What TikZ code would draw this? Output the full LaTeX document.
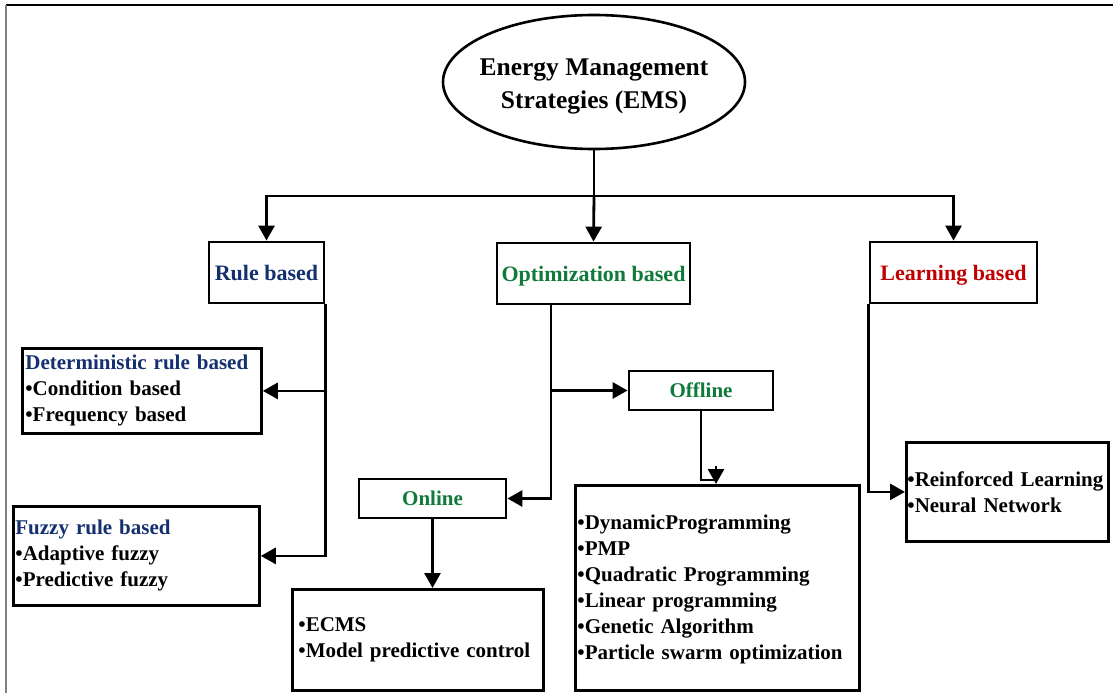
\documentclass[tikz,border=0pt]{standalone}
\usepackage{fontspec}
\setmainfont{Liberation Serif}
\usetikzlibrary{shapes.geometric,arrows.meta}
\definecolor{rulenavy}{RGB}{20,48,110}
\definecolor{optgreen}{RGB}{16,122,58}
\definecolor{learnred}{RGB}{192,0,0}
\tikzset{
  conn/.style={line width=2.8pt},
  arr/.style={conn,-{Triangle[length=15pt,width=16pt]}},
  hbox/.style={draw,line width=2.8pt,rectangle,inner sep=0pt,text depth=0pt,font=\fontsize{22}{26}\selectfont\bfseries},
  lbox/.style={draw,line width=2.8pt,rectangle,inner ysep=0pt,inner xsep=3pt,align=left,anchor=north west,font=\fontsize{21}{26}\selectfont\bfseries},
}
\begin{document}
\begin{tikzpicture}[x=1pt,y=-1pt]
\useasboundingbox (0,0) rectangle (1113,693);
\fill[white] (0,0) rectangle (1113,693);
\draw[line width=1.5pt] (6,5) coordinate (fa) -- (1113,5) coordinate (fb);
\draw[gray,line width=1.5pt] (fa) -- (6,693) coordinate (fc);

\node[draw,ellipse,line width=2.6pt,minimum width=302pt,minimum height=134pt,inner sep=0pt,align=center,
  font=\fontsize{25.5}{33}\selectfont\bfseries] (ems) at (594,82)
  {\rule{0pt}{25pt}\makebox[0pt]{Energy Management}\\\makebox[0pt]{Strategies (EMS)}};

\node[hbox,minimum width=115pt,minimum height=61pt,text=rulenavy] (rule) at (266.5,272.5) {Rule based};
\node[hbox,minimum width=193pt,minimum height=61pt,text=optgreen] (opt) at (593.5,273.5) {Optimization based};
\node[hbox,minimum width=167pt,minimum height=61pt,text=learnred] (learn) at (953.5,272.5) {Learning based};

\node[lbox,text width=233pt,minimum height=85pt] (det) at (21,347)
  {\textcolor{rulenavy}{Deterministic rule based}\\•Condition based\\•Frequency based};
\node[lbox,text width=242pt,minimum height=99pt,inner xsep=2pt] (fuzzy) at (12,505)
  {\textcolor{rulenavy}{Fuzzy rule based}\\•Adaptive fuzzy\\•Predictive fuzzy};

\node[hbox,minimum width=144pt,minimum height=39pt,text=optgreen,font=\fontsize{21}{26}\selectfont\bfseries] (offline) at (701,390.5) {Offline};
\node[hbox,minimum width=147pt,minimum height=39pt,text=optgreen,font=\fontsize{21}{26}\selectfont\bfseries] (online) at (432.5,498.5) {Online};

\node[lbox,text width=239pt,minimum height=101pt,inner xsep=6pt] (ecms) at (291,588)
  {•ECMS\\•Model predictive control};
\node[lbox,text width=280pt,minimum height=205pt,inner xsep=2pt] (offlist) at (574,484)
  {\rule{0pt}{18.5pt}•DynamicProgramming\\•PMP\\•Quadratic Programming\\•Linear programming\\•Genetic Algorithm\\•Particle swarm optimization};
\node[lbox,text width=200pt,minimum height=99pt,inner xsep=1pt] (llist) at (905,441)
  {•Reinforced Learning\\•Neural Network};

% connectors
\coordinate (j) at (594,196);
\draw[conn] (ems.south) -- (j);
\draw[arr] (j) -| (rule.north);
\draw[arr] (j) -| (learn.north);
\draw[arr] (j) -- (opt.north);

\draw[arr] (rule.south east) |- (det.east);
\draw[arr] (rule.south east) |- (fuzzy.east);

\coordinate (o1) at (551,304);
\draw[arr] (o1) |- (offline.west);
\draw[arr] (o1) |- (online.east);

\coordinate (k) at (716,480);
\draw[conn] (offline.south) |- (k);
\draw[arr] (716,466) -- (offlist.north -| k);

\draw[arr] (online.south) -- (online.south |- ecms.north);

\draw[arr] (learn.south west) |- (llist.west);
\end{tikzpicture}
\end{document}
